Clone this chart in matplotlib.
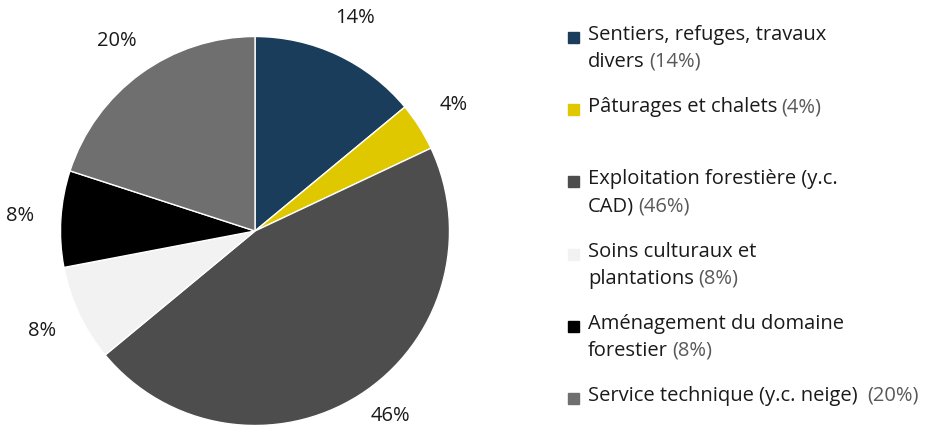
import matplotlib
matplotlib.use("Agg")
import matplotlib.pyplot as plt

# data
shares = [14, 4, 46, 8, 8, 20]
colors = ["#1a3d5c", "#e0c800", "#4d4d4d", "#f2f2f2", "#000000", "#6f6f6f"]
legend_lines = [
    ["Sentiers, refuges, travaux", "divers"],
    ["Pâturages et chalets"],
    ["Exploitation forestière (y.c.", "CAD)"],
    ["Soins culturaux et", "plantations"],
    ["Aménagement du domaine", "forestier"],
    ["Service technique (y.c. neige) "],
]

plt.rcParams["font.family"] = ["Open Sans", "DejaVu Sans"]

W, H = 933, 426
fig = plt.figure(figsize=(W / 100, H / 100), dpi=100)

# pie placed so centre sits at (255, 231) px, radius ~194 px
cx, cy, r = 255, 231, 194.5
ax = fig.add_axes([(cx - r) / W, (H - cy - r) / H, 2 * r / W, 2 * r / H])
wedges, _, autotexts = ax.pie(
    shares, colors=colors, startangle=90, counterclock=False,
    autopct=lambda p: f"{p:.0f}%", pctdistance=1.21,
    wedgeprops=dict(edgecolor="white", linewidth=1),
    textprops=dict(fontsize=14.5, color="#1a1a1a"),
)
ax.set_xlim(-1, 1)
ax.set_ylim(-1, 1)
ax.set_aspect("equal")
ax.axis("off")

# the big slice's label gets pushed up a bit so it stays inside the frame
x46, y46 = autotexts[2].get_position()
autotexts[2].set_position((x46 + 0.05, -0.95))

# legend drawn by hand so the percent can be grey
lx_box, lx_txt = 568, 588
y0, step, line_h = 35, 72.2, 27
for i, lines in enumerate(legend_lines):
    ytop = y0 + i * step
    fig.patches.append(plt.Rectangle(
        (lx_box / W, 1 - (ytop + 8) / H), 11 / W, 11 / H,
        transform=fig.transFigure, color=colors[i], figure=fig))
    last = None
    for j, line in enumerate(lines):
        last = fig.text(lx_txt / W, 1 - (ytop + j * line_h) / H, line,
                        fontsize=14.5, color="#1a1a1a", ha="left", va="center")
    ax.annotate(f"({shares[i]}%)", xy=(1, 0), xycoords=last,
                xytext=(3, 0), textcoords="offset points",
                fontsize=14.5, color="#595959", ha="left", va="bottom")

fig.savefig("out.png", dpi=100, facecolor="white")
